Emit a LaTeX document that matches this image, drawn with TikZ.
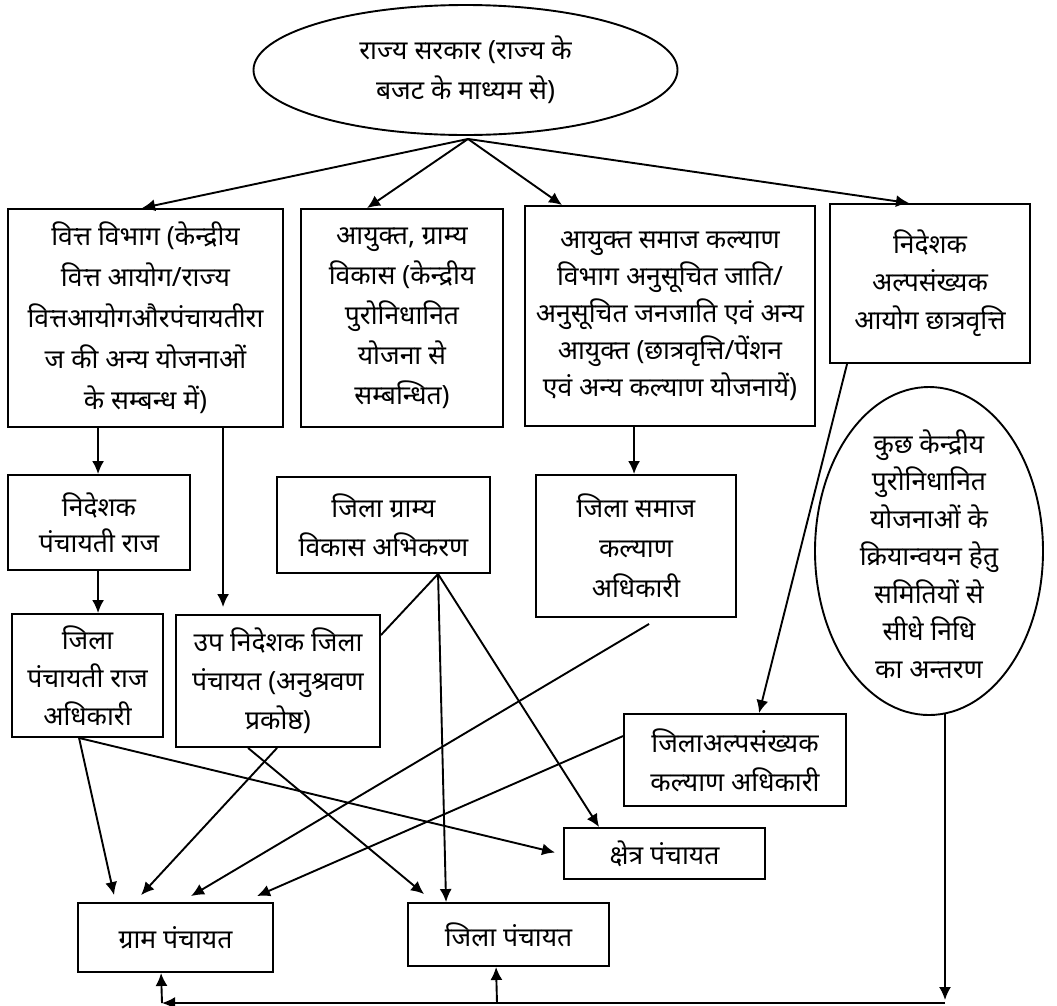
\documentclass[tikz,border=0pt]{standalone}
\usepackage{fontspec}
\setmainfont[Script=Devanagari]{Noto Sans}
\usetikzlibrary{shapes.geometric,arrows.meta}
\newcommand\fsz[1]{\fontsize{26.5}{#1}\selectfont}
\begin{document}
\begin{tikzpicture}[x=1pt,y=-1pt,
  box/.style={draw, line width=1.9pt, rectangle, inner sep=0pt, align=center},
  oval/.style={draw, line width=1.9pt, ellipse, inner sep=0pt},
  txt/.style={inner sep=0pt, align=center},
  arr/.style={line width=1.9pt, -{Latex[length=13pt,width=12pt]}},
  ln/.style={line width=1.9pt}]
\useasboundingbox (0,0) rectangle (1057,1005);

% top ellipse
\node[oval, minimum width=424pt, minimum height=130pt, align=center, font=\fsz{40}] (e1) at (465.5,70)
  {राज्य सरकार (राज्य के\\बजट के माध्यम से)};

% first row boxes
\node[box, minimum width=275pt, minimum height=218pt, font=\fsz{41}] (b1) at (145.5,318)
  {वित्त विभाग (केन्द्रीय\\वित्त आयोग/राज्य\\वित्तआयोगऔरपंचायतीरा\\ज की अन्य योजनाओं\\के सम्बन्ध में)};
\node[box, minimum width=202pt, minimum height=218pt, font=\fsz{40}] (b2) at (402,318)
  {आयुक्त, ग्राम्य\\विकास (केन्द्रीय\\पुरोनिधानित\\योजना से\\सम्बन्धित)};
\node[box, minimum width=290pt, minimum height=220pt, font=\fsz{37}] (b3) at (670,316)
  {आयुक्त समाज कल्याण\\विभाग अनुसूचित जाति/\\अनुसूचित जनजाति एवं अन्य\\आयुक्त (छात्रवृत्ति/पेंशन\\एवं अन्य कल्याण योजनायें)};
\node[box, minimum width=200pt, minimum height=159pt, font=\fsz{38}] (b4) at (930,283.5)
  {निदेशक\\अल्पसंख्यक\\आयोग छात्रवृत्ति};

% second level
\node[box, minimum width=182pt, minimum height=95pt, font=\fsz{36}] (b5) at (99,522.5)
  {निदेशक\\पंचायती राज};
\node[box, minimum width=213pt, minimum height=96pt, font=\fsz{39}] (b8) at (383.5,525)
  {जिला ग्राम्य\\विकास अभिकरण};
\node[box, minimum width=200pt, minimum height=142pt, font=\fsz{40}] (b9) at (636,546)
  {जिला समाज\\कल्याण\\अधिकारी};
\node[oval, minimum width=228pt, minimum height=328pt] (e2) at (929,551) {};
\node[txt, font=\fsz{37.5}] (e2t) at (929,554) {कुछ केन्द्रीय\\पुरोनिधानित\\योजनाओं के\\क्रियान्वयन हेतु\\समितियों से\\सीधे निधि\\का अन्तरण};

% third level
\node[box, minimum width=151pt, minimum height=123pt, font=\fsz{38}] (b6) at (87.5,675.5)
  {जिला\\पंचायती राज\\अधिकारी};
\node[box, minimum width=204pt, minimum height=132pt, font=\fsz{39}] (b7) at (278,681)
  {उप निदेशक जिला\\पंचायत (अनुश्रवण\\प्रकोष्ठ)};
\node[box, minimum width=222pt, minimum height=92pt, font=\fsz{39}] (alp) at (735,760)
  {जिलाअल्पसंख्यक\\कल्याण अधिकारी};

% bottom
\node[box, minimum width=201pt, minimum height=51pt, font=\fsz{30}] (kp) at (664.5,853.5) {क्षेत्र पंचायत};
\node[box, minimum width=195pt, minimum height=69pt, font=\fsz{30}] (gp) at (175.5,937.5) {ग्राम पंचायत};
\node[box, minimum width=201pt, minimum height=63pt, font=\fsz{30}] (jp) at (508.5,934.5) {जिला पंचायत};

% connectors from top ellipse
\coordinate (apex) at ([xshift=2.5pt,yshift=-3pt]e1.south);
\draw[arr] (apex) -- ([xshift=135pt]b1.north west);
\draw[arr] (apex) -- ([xshift=67pt]b2.north west);
\draw[arr] (apex) -- ([xshift=38pt]b3.north west);
\draw[arr] (apex) -- ([xshift=80pt]b4.north west);

% vertical chains
\draw[arr] ([xshift=91pt]b1.south west) -- ([xshift=91pt]b5.north west);
\draw[arr] ([xshift=91pt]b5.south west) -- ([xshift=87pt]b6.north west);
\draw[arr] ([xshift=216pt]b1.south west) -- ([xshift=48pt,yshift=7pt]b7.north west);
\draw[arr] ([xshift=110pt]b3.south west) -- ([xshift=99pt]b9.north west);
\draw[arr] ([xshift=18pt]b4.south west) -- ([xshift=136pt]alp.north west);

% from district rural development agency
\draw[ln] ([xshift=162pt]b8.south west) -- ([yshift=-21pt]b7.north east);
\draw[arr] ([xshift=162pt]b8.south west) -- ([xshift=39pt]jp.north west);
\draw[arr] ([xshift=162pt]b8.south west) -- ([xshift=36pt]kp.north west);

% to gram / kshetra / jila panchayat
\draw[arr] ([xshift=68pt]b6.south west) -- ([xshift=37pt,yshift=7pt]gp.north west);
\draw[arr] ([xshift=68pt]b6.south west) -- ([xshift=-8pt,yshift=1pt]kp.west);
\draw[arr] ([xshift=102pt]b7.south west) -- ([xshift=64pt,yshift=7pt]gp.north west);
\draw[arr] ([xshift=73pt]b7.south west) -- ([xshift=17pt,yshift=8pt]jp.north west);
\draw[arr] ([xshift=114pt,yshift=-6pt]b9.south west) -- ([xshift=114pt,yshift=6pt]gp.north west);
\draw[arr] ([yshift=-23pt]alp.north west) -- ([xshift=180pt,yshift=6pt]gp.north west);

% direct transfer
\coordinate (br) at (945,1003);
\coordinate (bl) at (162,1003);
\coordinate (bm) at (497,1003);
\draw[arr] ([xshift=16pt,yshift=2pt]e2.south) -- ([yshift=3pt]br);
\draw[arr] (br) -- (bl);
\draw[arr] (bl) -- ([xshift=84pt]gp.south west);
\draw[arr] (bm) -- ([xshift=89pt]jp.south west);
\end{tikzpicture}
\end{document}
